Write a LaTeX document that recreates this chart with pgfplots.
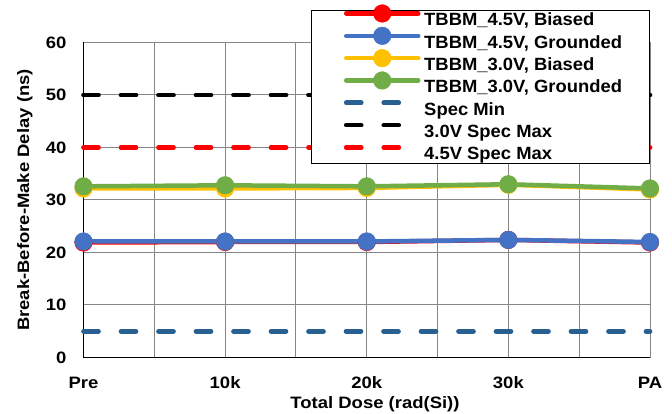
\documentclass[border=0pt]{standalone}
\usepackage{fontspec}
\setmainfont{Liberation Sans}[FakeStretch=1.12]
\newfontfamily\legfont{Liberation Sans}[FakeStretch=1.04]
\usepackage{pgfplots}
\pgfplotsset{compat=1.18}
\definecolor{cRed}{RGB}{255,0,0}
\definecolor{cBlue}{RGB}{68,114,196}
\definecolor{cYel}{RGB}{255,192,0}
\definecolor{cGrn}{RGB}{112,173,71}
\definecolor{cSpec}{RGB}{41,96,146}
\definecolor{cGrid}{RGB}{134,134,134}
\begin{document}
\begin{tikzpicture}
\path[use as bounding box] (-83.5bp,-56.5bp) rectangle (588.5bp,357.5bp);
\begin{axis}[
  at={(0,0)}, anchor=south west,
  scale only axis, width=566.5bp, height=315bp,
  xmin=0, xmax=4, ymin=0, ymax=60,
  xtick={0,1,2,3,4}, xticklabels={Pre,10k,20k,30k,PA},
  minor xtick={0.5,1,1.5,2,2.5,3,3.5,4},
  ytick={0,10,20,30,40,50,60},
  minor ytick={10,20,30,40,50,60},
  xmajorgrids=false, ymajorgrids=false,
  xminorgrids=true, yminorgrids=true,
  minor grid style={cGrid, line width=1bp},
  axis x line*=bottom, axis y line*=left,
  axis line style={black, line width=1.6bp, -},
  major tick length=0pt, minor tick length=0pt,
  clip=false,
  tick label style={font=\fontsize{16.5bp}{19bp}\selectfont\bfseries},
  /pgf/number format/assume math mode=true,
  xticklabel style={anchor=base, yshift=-30.5bp},
  yticklabel style={anchor=east, inner sep=0pt, xshift=-16.8bp},
  xlabel={Total Dose (rad(Si))},
  xlabel style={at={(axis description cs:0.5146,-0.1613)}, anchor=base, font=\fontsize{16.5bp}{19bp}\selectfont\bfseries},
  ylabel={Break-Before-Make Delay (ns)},
  ylabel style={at={(axis description cs:-0.1033,0.5)}, anchor=center, font=\fontsize{16.5bp}{19bp}\selectfont\bfseries},
  legend style={at={(rel axis cs:1.0,1.1032)}, anchor=north east, draw=black, line width=1bp, fill=white,
    font=\legfont\fontsize{17.7bp}{20bp}\selectfont\bfseries,
    inner xsep=27.5bp, inner ysep=1bp, row sep=5.33bp, column sep=6bp,
    cells={anchor=west}, nodes={inner sep=0pt, text height=14.5bp, text depth=2.5bp}},
  legend cell align=left,
  legend image code/.code={
    \path[draw=none, fill=none] (-7.5bp,0bp) rectangle (72bp,0bp);
    \draw[#1, overlay, mark repeat=2, mark phase=2] plot coordinates {(0bp,6.5bp) (36bp,6.5bp) (72bp,6.5bp)};
  },
  dataline/.style={line width=4.5bp, line cap=round, line join=round, mark=*, mark size=8.8bp, every mark/.append style={solid, line width=0.5bp, fill=#1, draw=#1}, color=#1},
  specline/.style={line width=4.7bp, line cap=round, dash pattern=on 15bp off 22.5bp, mark=none},
]
\addplot[dataline=cRed] coordinates {(0,21.9) (1,22.0) (2,22.0) (3,22.4) (4,21.9)};
\addlegendentry{TBBM\_4.5V, Biased}
\addplot[dataline=cBlue] coordinates {(0,22.1) (1,22.1) (2,22.1) (3,22.4) (4,22.0)};
\addlegendentry{TBBM\_4.5V, Grounded}
\addplot[dataline=cYel] coordinates {(0,32.2) (1,32.2) (2,32.3) (3,32.9) (4,32.0)};
\addlegendentry{TBBM\_3.0V, Biased}
\addplot[dataline=cGrn] coordinates {(0,32.6) (1,32.8) (2,32.6) (3,33.0) (4,32.2)};
\addlegendentry{TBBM\_3.0V, Grounded}
\addplot[specline, cSpec] coordinates {(0,5) (4,5)};
\addlegendentry{Spec Min}
\addplot[specline, black] coordinates {(0,50) (4,50)};
\addlegendentry{3.0V Spec Max}
\addplot[specline, cRed] coordinates {(0,40) (4,40)};
\addlegendentry{4.5V Spec Max}
\end{axis}
\end{tikzpicture}
\end{document}
